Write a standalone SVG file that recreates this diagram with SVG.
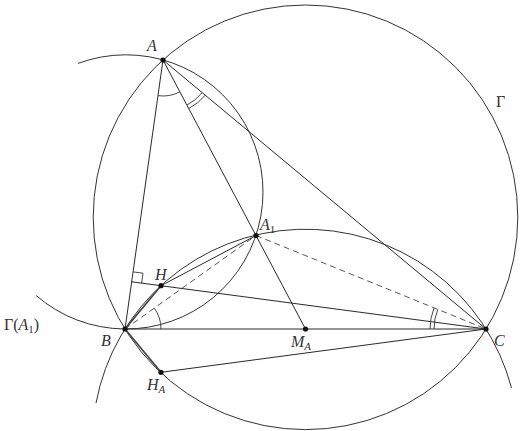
<svg xmlns="http://www.w3.org/2000/svg" width="523" height="431" viewBox="0 0 523 431">
<style>
.c{fill:none;stroke:#333;stroke-width:1}
.l{fill:none;stroke:#2a2a2a;stroke-width:1}
.v{fill:none;stroke:#444;stroke-width:1.7}
.d{fill:none;stroke:#444;stroke-width:0.9;stroke-dasharray:6 4}
.m{fill:none;stroke:#333;stroke-width:0.9}
.p{fill:#111}
.t{font-family:"Liberation Serif",serif;font-style:italic;font-size:16px;fill:#333}
.u{font-family:"Liberation Serif",serif;font-size:16px;fill:#333}
.s{font-family:"Liberation Serif",serif;font-size:11px;fill:#333}
.si{font-family:"Liberation Serif",serif;font-style:italic;font-size:11px;fill:#333}
</style>
<g id="circles">
<circle id="Gamma" class="c" cx="305.5" cy="217.3" r="212.3"/>
<path id="circleABA1" class="c" d="M78.1,63.4 A137.1,137.1 0 1 1 36.1,295.5"/>
<path id="GammaA1" class="c" d="M96,403.1 A213.1,213.1 0 0 1 511.5,387.9"/>
</g>
<g id="connectors">
<line class="l" x1="163" y1="60" x2="125" y2="329"/>
<line class="l" x1="163" y1="60" x2="486" y2="329"/>
<line class="l" x1="125" y1="329" x2="486" y2="329"/>
<line class="l" x1="163" y1="60" x2="305.5" y2="329"/>
<line class="l" x1="131.7" y1="281.8" x2="486" y2="329"/>
<line class="l" x1="161" y1="372.3" x2="486" y2="329"/>
<line class="v" x1="125" y1="329" x2="161" y2="285.7"/>
<line class="l" x1="161" y1="285.7" x2="256" y2="235.5"/>
<line class="v" x1="125" y1="329" x2="161" y2="372.3"/>
<line class="d" x1="125" y1="329" x2="256" y2="235.5"/>
<line class="d" x1="256" y1="235.5" x2="486" y2="329"/>
</g>
<g id="marks">
<path class="m" d="M179.9,91.8 A36,36 0 0 1 158,95.65"/>
<path class="m" d="M202.2,92.6 A51,51 0 0 1 186.9,105.1"/>
<path class="m" d="M205.3,95.2 A55,55 0 0 1 188.7,108.6"/>
<path class="m" d="M154.3,308.1 A36,36 0 0 1 161,329"/>
<path class="m" d="M434,329 A52,52 0 0 1 437.8,309.4"/>
<path class="m" d="M430,329 A56,56 0 0 1 434.1,307.9"/>
<polyline class="m" points="133.1,271.9 143,273.2 141.6,283.1"/>
</g>
<g id="A"><circle class="p" cx="163" cy="60" r="2.6"/><text class="t" x="147" y="51">A</text></g>
<g id="B"><circle class="p" cx="125" cy="329" r="2.6"/><text class="t" x="101" y="346">B</text></g>
<g id="C"><circle class="p" cx="486" cy="329" r="2.6"/><text class="t" x="494" y="346">C</text></g>
<g id="A1"><circle class="p" cx="256" cy="235.5" r="2.6"/><text class="t" x="260" y="230">A<tspan class="s" font-style="normal" dy="3">1</tspan></text></g>
<g id="H"><circle class="p" cx="161" cy="285.7" r="2.6"/><text class="t" x="155" y="280">H</text></g>
<g id="MA"><circle class="p" cx="305.5" cy="329" r="2.6"/><text class="t" x="291" y="347">M<tspan class="si" dy="3">A</tspan></text></g>
<g id="HA"><circle class="p" cx="161" cy="372.3" r="2.6"/><text class="t" x="147" y="390">H<tspan class="si" dy="3">A</tspan></text></g>
<g id="labels">
<text class="u" x="496" y="107">Γ</text>
<text class="u" x="4" y="330">Γ(<tspan font-style="italic">A</tspan><tspan class="s" dy="3">1</tspan><tspan dy="-3">)</tspan></text>
</g>
</svg>
